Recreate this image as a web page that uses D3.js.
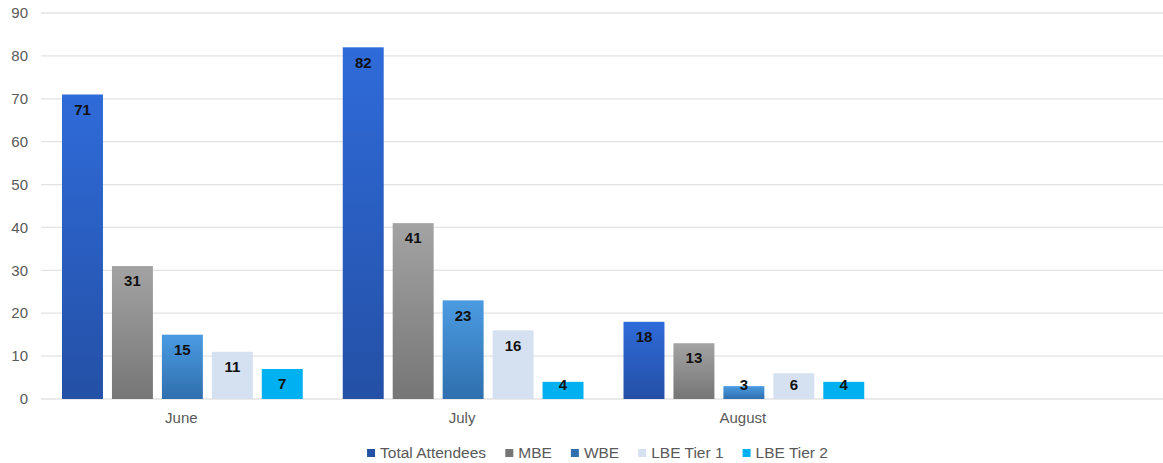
<!DOCTYPE html>
<html>
<head>
<meta charset="utf-8">
<script src="https://cdn.jsdelivr.net/npm/d3@7"></script>
<style>
  body { margin: 0; background: #fff; }
  svg { display: block; font-family: "Liberation Sans", Arial, sans-serif; }
</style>
</head>
<body>
<div id="chart"></div>
<script>
const months = ['June', 'July', 'August', ''];
const seriesNames = ['Total Attendees', 'MBE', 'WBE', 'LBE Tier 1', 'LBE Tier 2'];
const totalAttendees = [71, 82, 18];
const mbe = [31, 41, 13];
const wbe = [15, 23, 3];
const lbeTier1 = [11, 16, 6];
const lbeTier2 = [7, 4, 4];
const yTicks = [0, 10, 20, 30, 40, 50, 60, 70, 80, 90];

const seriesValues = [totalAttendees, mbe, wbe, lbeTier1, lbeTier2];
const colors = [
  ['#2f6bd9', '#2450a6'],
  ['#a3a3a3', '#767676'],
  ['#4b9be2', '#2f6fae'],
  ['#d5e0f0', '#d5e0f0'],
  ['#00b0f0', '#00b0f0']
];

const width = 1163;
const height = 463;
const margin = { top: 13, right: 0, bottom: 64, left: 41 };

const svg = d3.select('#chart').append('svg')
    .attr('width', width)
    .attr('height', height);

// gradients
const defs = svg.append('defs');
colors.forEach((c, i) => {
  const g = defs.append('linearGradient')
      .attr('id', 'grad' + i)
      .attr('x1', 0).attr('y1', 0).attr('x2', 0).attr('y2', 1);
  g.append('stop').attr('offset', '0%').attr('stop-color', c[0]);
  g.append('stop').attr('offset', '100%').attr('stop-color', c[1]);
});

const x0 = d3.scaleBand()
    .domain(months)
    .range([margin.left, width + 1]);

const x1 = d3.scaleBand()
    .domain(seriesNames)
    .range([21, x0.bandwidth() - 19])
    .paddingInner(0.18);

const y = d3.scaleLinear()
    .domain([0, 90])
    .range([height - margin.bottom, margin.top]);

// gridlines
svg.append('g')
  .selectAll('line')
  .data(yTicks)
  .join('line')
    .attr('x1', margin.left)
    .attr('x2', width)
    .attr('y1', d => y(d))
    .attr('y2', d => y(d))
    .attr('stroke', '#e3e3e3')
    .attr('stroke-width', 1.3);

// y axis labels
svg.append('g')
  .selectAll('text')
  .data(yTicks)
  .join('text')
    .attr('x', 28)
    .attr('y', d => y(d))
    .attr('dy', '0.35em')
    .attr('text-anchor', 'end')
    .attr('fill', '#595959')
    .style('font-size', '15px')
    .text(d => d);

// bars
const groups = svg.append('g')
  .selectAll('g')
  .data(months.slice(0, 3))
  .join('g')
    .attr('transform', d => `translate(${x0(d)},0)`);

groups.each(function(month, mi) {
  const g = d3.select(this);
  seriesNames.forEach((name, si) => {
    const v = seriesValues[si][mi];
    g.append('rect')
      .attr('x', x1(name))
      .attr('y', y(v))
      .attr('width', x1.bandwidth())
      .attr('height', y(0) - y(v))
      .attr('fill', `url(#grad${si})`);
    g.append('text')
      .attr('x', x1(name) + x1.bandwidth() / 2)
      .attr('y', Math.min(y(v) + 15, y(0) - 14))
      .attr('dy', '0.35em')
      .attr('text-anchor', 'middle')
      .attr('fill', '#111')
      .style('font-size', '15px')
      .style('font-weight', 'bold')
      .text(v);
  });
});

// category labels
svg.append('g')
  .selectAll('text')
  .data(months)
  .join('text')
    .attr('x', d => x0(d) + x0.bandwidth() / 2)
    .attr('y', y(0) + 19)
    .attr('dy', '0.35em')
    .attr('text-anchor', 'middle')
    .attr('fill', '#595959')
    .style('font-size', '15px')
    .text(d => d);

// legend
const legend = svg.append('g');
const legendItems = legend.selectAll('g')
  .data(seriesNames)
  .join('g');
legendItems.append('rect')
    .attr('width', 8)
    .attr('height', 8)
    .attr('y', -4)
    .attr('fill', (d, i) => colors[i][1]);
legendItems.append('text')
    .attr('x', 13)
    .attr('dy', '0.35em')
    .attr('fill', '#595959')
    .style('font-size', '15.5px')
    .text(d => d);

let offset = 0;
const itemOffsets = [];
legendItems.each(function() {
  itemOffsets.push(offset);
  offset += this.getBBox().width + 19;
});
const legendWidth = offset - 19;
legendItems.attr('transform', (d, i) => `translate(${itemOffsets[i]},0)`);
legend.attr('transform', `translate(${(width - legendWidth) / 2 + 16},453)`);
</script>
</body>
</html>
